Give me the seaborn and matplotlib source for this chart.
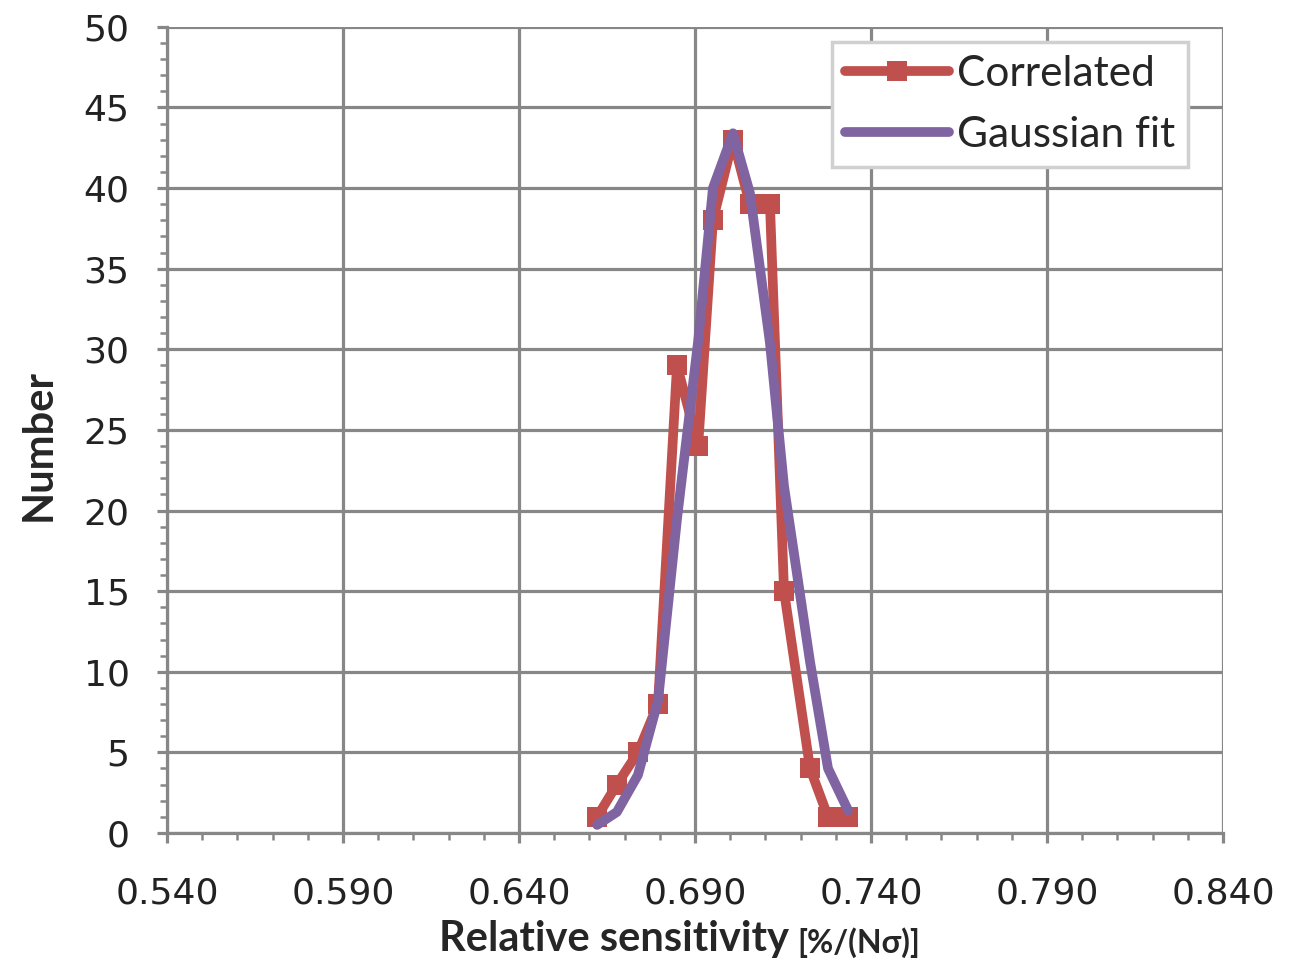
import numpy as np
import pandas as pd
import matplotlib
matplotlib.use("Agg")
import matplotlib.pyplot as plt
from matplotlib.ticker import FixedLocator, MultipleLocator, FormatStrFormatter
import seaborn as sns

# values
sensitivity = [0.6622, 0.6678, 0.6738, 0.6795, 0.6849, 0.6909, 0.6951,
               0.7008, 0.7056, 0.7113, 0.7153, 0.7227, 0.7278, 0.7335]
correlated = [1, 3, 5, 8, 29, 24, 38, 43, 39, 39, 15, 4, 1, 1]
gaussian_fit = [0.5, 1.3, 3.6, 8.2, 19.5, 30.5, 40.0,
                43.4, 39.7, 30.4, 21.5, 10.6, 4.0, 1.4]
x_ticks = [0.54, 0.59, 0.64, 0.69, 0.74, 0.79, 0.84]

df = pd.DataFrame({"x": sensitivity, "Correlated": correlated,
                   "Gaussian fit": gaussian_fit})

sns.set_style("white")
plt.rcParams["font.family"] = ["DejaVu Sans"]

red = "#C0504D"
purple = "#8064A2"
grid_col = "#878787"
label_font = ["Lato", "DejaVu Sans"]

fig = plt.figure(figsize=(13.15, 9.66), dpi=100)
ax = fig.add_axes([0.127, 0.1377, 0.803, 0.8345])

sns.lineplot(data=df, x="x", y="Correlated", ax=ax, color=red, linewidth=7,
             marker="s", markersize=14, markeredgewidth=0, label="Correlated",
             sort=False, solid_capstyle="round", solid_joinstyle="round")
sns.lineplot(data=df, x="x", y="Gaussian fit", ax=ax, color=purple, linewidth=7,
             label="Gaussian fit", sort=False, solid_capstyle="round",
             solid_joinstyle="round")

ax.set_xlim(0.54, 0.84)
ax.set_ylim(0, 50)
ax.xaxis.set_major_locator(FixedLocator(x_ticks))
ax.xaxis.set_minor_locator(MultipleLocator(0.01))
ax.yaxis.set_major_locator(MultipleLocator(5))
ax.yaxis.set_minor_locator(MultipleLocator(1))
ax.xaxis.set_major_formatter(FormatStrFormatter("%.3f"))

ax.grid(True, which="major", color=grid_col, linewidth=2.3)
ax.set_axisbelow(True)
for s in ["top", "right"]:
    ax.spines[s].set_visible(False)
for s in ["left", "bottom"]:
    ax.spines[s].set_color(grid_col)
    ax.spines[s].set_linewidth(2.3)

ax.tick_params(which="both", bottom=True, left=True, top=False, right=False)
ax.tick_params(which="major", direction="out", length=7, width=2.3,
               color=grid_col, labelsize=26, labelcolor="#222222")
ax.tick_params(which="minor", direction="out", length=5, width=1.8,
               color=grid_col)
ax.tick_params(axis="x", which="major", pad=24)
ax.tick_params(axis="y", which="major", pad=20)

ax.set_ylabel("")
ax.set_xlabel("")
fig.text(0.029, 0.539, "Number", rotation=90, fontsize=30, fontweight="bold",
         family=label_font, ha="center", va="center")
t1 = fig.text(0.334, 0.008, "Relative sensitivity", fontsize=30,
              fontweight="bold", family=label_font, ha="left", va="bottom")
ax.annotate("[%/(N\u03c3)]", xy=(1, 0), xycoords=t1, xytext=(6, 0),
            textcoords="offset points", fontsize=23, fontweight="bold",
            family=label_font, ha="left", va="bottom")

leg = ax.legend(loc="upper right", bbox_to_anchor=(0.967, 0.981),
                borderaxespad=0,
                prop={"family": label_font, "size": 30.5},
                frameon=True, fancybox=False, handlelength=2.45,
                handletextpad=0.2, borderpad=0.3, labelspacing=0.55)
leg.get_frame().set_edgecolor("#D0D0D0")
leg.get_frame().set_linewidth(2.5)
leg.get_frame().set_alpha(1)

fig.savefig("out.png", dpi=100, facecolor="white")
